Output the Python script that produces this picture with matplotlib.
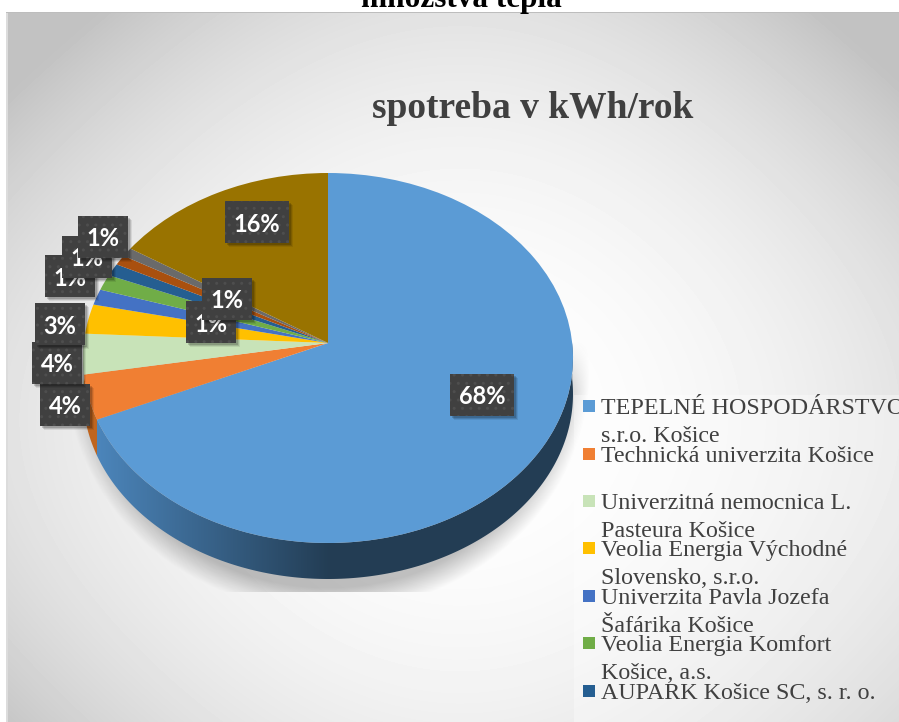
import numpy as np
import matplotlib
matplotlib.use('Agg')
import matplotlib.pyplot as plt
from matplotlib.patches import Rectangle, Polygon
from matplotlib.transforms import Transform

heading = 'množstva tepla'
title = 'spotreba v kWh/rok'

# share of the yearly consumption
shares = [68.4, 3.9, 3.52, 2.6, 1.39, 1.4, 1.1, 0.9, 0.8, 16.0]
colors = ['#5B9BD5', '#F07F33', '#C8E3B8', '#FFC000', '#4472C4',
          '#70AD47', '#255E91', '#A9500F', '#6A6A6A', '#997300']
side_colors = ['#2F5878', '#BF651F', '#9DB58F', '#C79600', '#35598F',
               '#578636', '#1C476E', '#7A380B', '#4D4D4D', '#735600']

legend_names = ['TEPELNÉ HOSPODÁRSTVO\ns.r.o. Košice',
                'Technická univerzita Košice',
                'Univerzitná nemocnica L.\nPasteura Košice',
                'Veolia Energia Východné\nSlovensko, s.r.o.',
                'Univerzita Pavla Jozefa\nŠafárika Košice',
                'Veolia Energia Komfort\nKošice, a.s.',
                'AUPARK Košice SC, s. r. o.']

# layout, in pixels of the picture
W, H = 899, 722
cx, cy = 328, 343
half_width = 245
r_up, r_down = 170, 200
depth = 36
label_pos = [(482, 395), (65, 405), (57, 363), (60, 324), (70, 276),
             (87, 257), (103, 237), (211, 322), (227, 299), (257, 222)]
legend_y = [406, 454, 501, 548, 596, 643, 691]

# the tilted pie is nearer at the bottom: a perspective map from the unit circle to pixels
B = (r_down - r_up) / (r_down + r_up)
A = r_up * (1 + B)
R = half_width * np.sqrt(1 - B ** 2)


def to_pixels(x, y):
    w = 1 + B * y
    return cx + R * x / w, cy - A * y / w


class Tilt(Transform):
    input_dims = 2
    output_dims = 2

    def transform_non_affine(self, values):
        values = np.asarray(values, dtype=float)
        px, py = to_pixels(values[:, 0], values[:, 1])
        return np.column_stack([px, py])


fig = plt.figure(figsize=(W / 100, H / 100), dpi=100, facecolor='white')

# background, walls and shadow
bg = fig.add_axes([0, 0, 1, 1], zorder=0)
bg.set_xlim(0, W)
bg.set_ylim(H, 0)
bg.axis('off')

X, Y = np.meshgrid(np.arange(W) + 0.5, np.arange(H) + 0.5)
dx2 = ((X - 460) / 470) ** 2
dy2 = ((Y - 420) / 420) ** 2
grey = 1 - 0.12 * dx2 - 0.12 * dy2 - 0.10 * dx2 * dy2
grey = np.clip(grey, 0.76, 1)
grey[(X < 8) | (Y < 12)] = 1
grey[(X >= 6) & (X < 8) & (Y >= 12)] = 0.86
grey[(Y >= 12) & (Y < 13.5) & (X >= 6)] = 0.74
bg.imshow(grey, cmap='gray', vmin=0, vmax=1, extent=(0, W, H, 0), aspect='auto',
          interpolation='bilinear', zorder=0)

# soft shadow under the pie, cut off flat at the bottom
r = np.sqrt(((X - cx) / 262) ** 2 + ((Y - 372) / 240) ** 2)
alpha = 0.24 * np.clip((1.0 - r) / 0.10, 0, 1)
alpha = alpha * np.clip((Y - 340) / 50, 0, 1)
alpha[Y > 592] = 0
shadow = np.zeros((H, W, 4))
shadow[..., 3] = alpha
bg.imshow(shadow, extent=(0, W, H, 0), aspect='auto', zorder=1)

# the side wall, slice by slice on the lower half
frac = np.array(shares) / sum(shares)
edges = 90 - 360 * np.concatenate([[0], np.cumsum(frac)])
for i in range(len(shares)):
    a1, a0 = edges[i], edges[i + 1]
    for lo, hi in ((-180, 0), (-540, -360)):
        t0, t1 = max(a0, lo), min(a1, hi)
        if t1 <= t0:
            continue
        t = np.radians(np.linspace(t0, t1, 200))
        px, py = to_pixels(np.cos(t), np.sin(t))
        poly = np.column_stack([np.r_[px, px[::-1]], np.r_[py, py[::-1] + depth]])
        if i == 0:
            # blue wall goes from light on the left to dark in the middle
            g = np.clip((X[0] - 95) / 235, 0, 1)[None, :]
            c0 = np.array([0x4C, 0x86, 0xBC]) / 255
            c1 = np.array([0x23, 0x3D, 0x54]) / 255
            grad = np.stack([c0[k] + (c1[k] - c0[k]) * g for k in range(3)], axis=-1)
            im = bg.imshow(grad, extent=(0, W, H, 0), aspect='auto', zorder=2)
            im.set_clip_path(Polygon(poly, transform=bg.transData))
        else:
            bg.add_patch(Polygon(poly, facecolor=side_colors[i], edgecolor='none', zorder=2))

# lighter panel behind the legend
bg.add_patch(Rectangle((574, 395), W - 574, H - 395, facecolor='white', alpha=0.35,
                       edgecolor='none', zorder=3))

# the pie itself
ax = fig.add_axes([0, 0, 1, 1], zorder=1)
ax.patch.set_alpha(0)
wedges, _ = ax.pie(shares, colors=colors, startangle=90, counterclock=False,
                   wedgeprops={'linewidth': 0})
ax.set_aspect('auto')
ax.set_xlim(0, W)
ax.set_ylim(H, 0)
ax.axis('off')
for wedge in wedges:
    wedge.set_transform(Tilt() + ax.transData)

# labels, legend and titles go on top
top = fig.add_axes([0, 0, 1, 1], zorder=2)
top.patch.set_alpha(0)
top.set_xlim(0, W)
top.set_ylim(H, 0)
top.axis('off')

top.text(461, 7, heading, family='Liberation Serif', weight='bold', fontsize=22.5,
         color='black', ha='center', va='baseline')
top.text(533, 118, title, family='Liberation Serif', weight='bold', fontsize=27,
         color='#404040', ha='center', va='baseline')

for i, (x, y) in enumerate(label_pos):
    txt = '%.0f%%' % (frac[i] * 100)
    w = 64 if len(txt) == 3 else 50
    h = 42
    for off, al in ((4, 0.08), (3, 0.12), (2, 0.16)):
        top.add_patch(Rectangle((x - w / 2 + off, y - h / 2 + off), w, h, facecolor='black',
                                edgecolor='none', alpha=al, zorder=3 + i * 0.1))
    top.add_patch(Rectangle((x - w / 2, y - h / 2), w, h, facecolor='#404040', edgecolor='#4E4E4E',
                            hatch='..', linewidth=0, zorder=3 + i * 0.1))
    top.text(x, y, txt, family='Lato', weight='bold', fontsize=17, color='white',
             ha='center', va='center_baseline', zorder=3.05 + i * 0.1)

for i, name in enumerate(legend_names):
    y = legend_y[i]
    top.add_patch(Rectangle((583, y - 6), 12, 12, facecolor=colors[i], edgecolor='none', zorder=6))
    top.text(601, y - 8, name, family='Liberation Serif', fontsize=17.3, color='#404040',
             ha='left', va='top', linespacing=1.42, zorder=7)

fig.savefig('out.png', dpi=100)
